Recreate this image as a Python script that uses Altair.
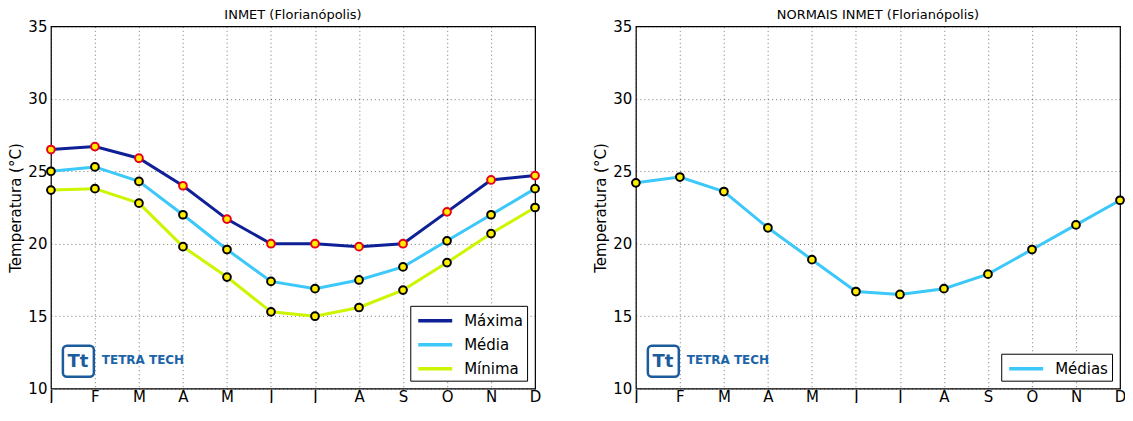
import altair as alt
import pandas as pd

months = ["J", "F", "M", "A", "M", "J", "J", "A", "S", "O", "N", "D"]
month_pos = [0, 1, 2, 3, 4, 5, 6, 7, 8, 9, 10, 11]

maxima = [26.5, 26.7, 25.9, 24.0, 21.7, 20.0, 20.0, 19.8, 20.0, 22.2, 24.4, 24.7]
media = [25.0, 25.3, 24.3, 22.0, 19.6, 17.4, 16.9, 17.5, 18.4, 20.2, 22.0, 23.8]
minima = [23.7, 23.8, 22.8, 19.8, 17.7, 15.3, 15.0, 15.6, 16.8, 18.7, 20.7, 22.5]
normais = [24.2, 24.6, 23.6, 21.1, 18.9, 16.7, 16.5, 16.9, 17.9, 19.6, 21.3, 23.0]

series_left = ["Máxima", "Média", "Mínima"]
colors_left = ["#0f1f96", "#3cc8f8", "#ccf500"]
edges_left = ["#e8001c", "#000000", "#000000"]

rows = []
for name, vals in zip(series_left, [maxima, media, minima]):
    for p, v in zip(month_pos, vals):
        rows.append({"mes": p, "temp": v, "serie": name})
df_left = pd.DataFrame(rows)
df_right = pd.DataFrame({"mes": month_pos, "temp": normais, "serie": ["Médias"] * 12})

label_expr = "[" + ",".join("'" + m + "'" for m in months) + "][datum.value]"

W, H = 485, 363


def x_enc():
    return alt.X("mes:Q", scale=alt.Scale(domain=[0, 11], nice=False, zero=False),
                 axis=alt.Axis(values=month_pos, labelExpr=label_expr, title=None,
                               labelPadding=1, labelFlush=False))


def y_enc():
    return alt.Y("temp:Q", scale=alt.Scale(domain=[10, 35], nice=False, zero=False),
                 axis=alt.Axis(values=[10, 15, 20, 25, 30, 35], title="Temperatura (°C)",
                               labelPadding=4, titlePadding=4))


def logo():
    one = pd.DataFrame({"k": [0]})
    box = alt.Chart(one).mark_rect(fill="white", stroke="#1c5c9c", strokeWidth=2.5,
                                   cornerRadius=4).encode(
        x=alt.value(12), x2=alt.value(43), y=alt.value(320), y2=alt.value(351))
    tt = alt.Chart(one).mark_text(text="Tt", font="DejaVu Sans", fontWeight="bold",
                                  fontSize=18, color="#1c5c9c", align="center",
                                  baseline="middle").encode(x=alt.value(27), y=alt.value(336))
    name = alt.Chart(one).mark_text(text="TETRA TECH", font="DejaVu Sans", fontWeight="bold",
                                    fontSize=12, color="#1c64a8", align="left",
                                    baseline="middle").encode(x=alt.value(51), y=alt.value(334))
    return box, tt, name


def legend():
    return alt.Legend(orient="bottom-right", title=None,
                      symbolType="M-0.78,0H3.0",
                      symbolStrokeWidth=3.5, symbolSize=324, labelFontSize=15,
                      labelFont="DejaVu Sans", labelColor="black",
                      strokeColor="black", fillColor="white", padding=4,
                      rowPadding=5, offset=8, labelOffset=28, cornerRadius=0)


base_l = alt.Chart(df_left)
line_l = base_l.mark_line(strokeWidth=3).encode(
    x=x_enc(), y=y_enc(),
    color=alt.Color("serie:N", scale=alt.Scale(domain=series_left, range=colors_left),
                    legend=legend()),
    detail="serie:N")
pts_l = base_l.mark_point(filled=True, size=60, fill="#ffee00", strokeWidth=2, opacity=1).encode(
    x=x_enc(), y=y_enc(),
    stroke=alt.Stroke("serie:N", scale=alt.Scale(domain=series_left, range=edges_left),
                      legend=None))
b1, t1, n1 = logo()
left = alt.layer(line_l, pts_l, b1, t1, n1).properties(
    width=W, height=H,
    title=alt.TitleParams("INMET (Florianópolis)", fontSize=13, fontWeight="normal",
                          font="DejaVu Sans", offset=-3))

base_r = alt.Chart(df_right)
line_r = base_r.mark_line(strokeWidth=3).encode(
    x=x_enc(), y=y_enc(),
    color=alt.Color("serie:N", scale=alt.Scale(domain=["Médias"], range=["#3cc8f8"]),
                    legend=legend()))
pts_r = base_r.mark_point(filled=True, size=60, fill="#ffee00", stroke="black",
                          strokeWidth=2, opacity=1).encode(x=x_enc(), y=y_enc())
b2, t2, n2 = logo()
right = alt.layer(line_r, pts_r, b2, t2, n2).properties(
    width=W, height=H,
    title=alt.TitleParams("NORMAIS INMET (Florianópolis)", fontSize=13, fontWeight="normal",
                          font="DejaVu Sans", offset=-3))

chart = alt.hconcat(left, right, spacing=49).resolve_scale(
    color="independent", stroke="independent").resolve_legend(
    color="independent").properties(
    padding={"left": 0, "top": 0, "right": -4, "bottom": -3},
    background="white"
).configure_view(stroke="black", strokeWidth=1.2).configure_axis(
    labelFont="DejaVu Sans", labelFontSize=15, labelColor="black",
    titleFont="DejaVu Sans", titleFontSize=15, titleFontWeight="normal", titleColor="black",
    domain=False, ticks=False, grid=True, gridColor="#000000", gridOpacity=0.55,
    gridDash=[1, 3], gridWidth=1
)

chart.save("out.html", embed_options={"renderer": "svg", "actions": False})
